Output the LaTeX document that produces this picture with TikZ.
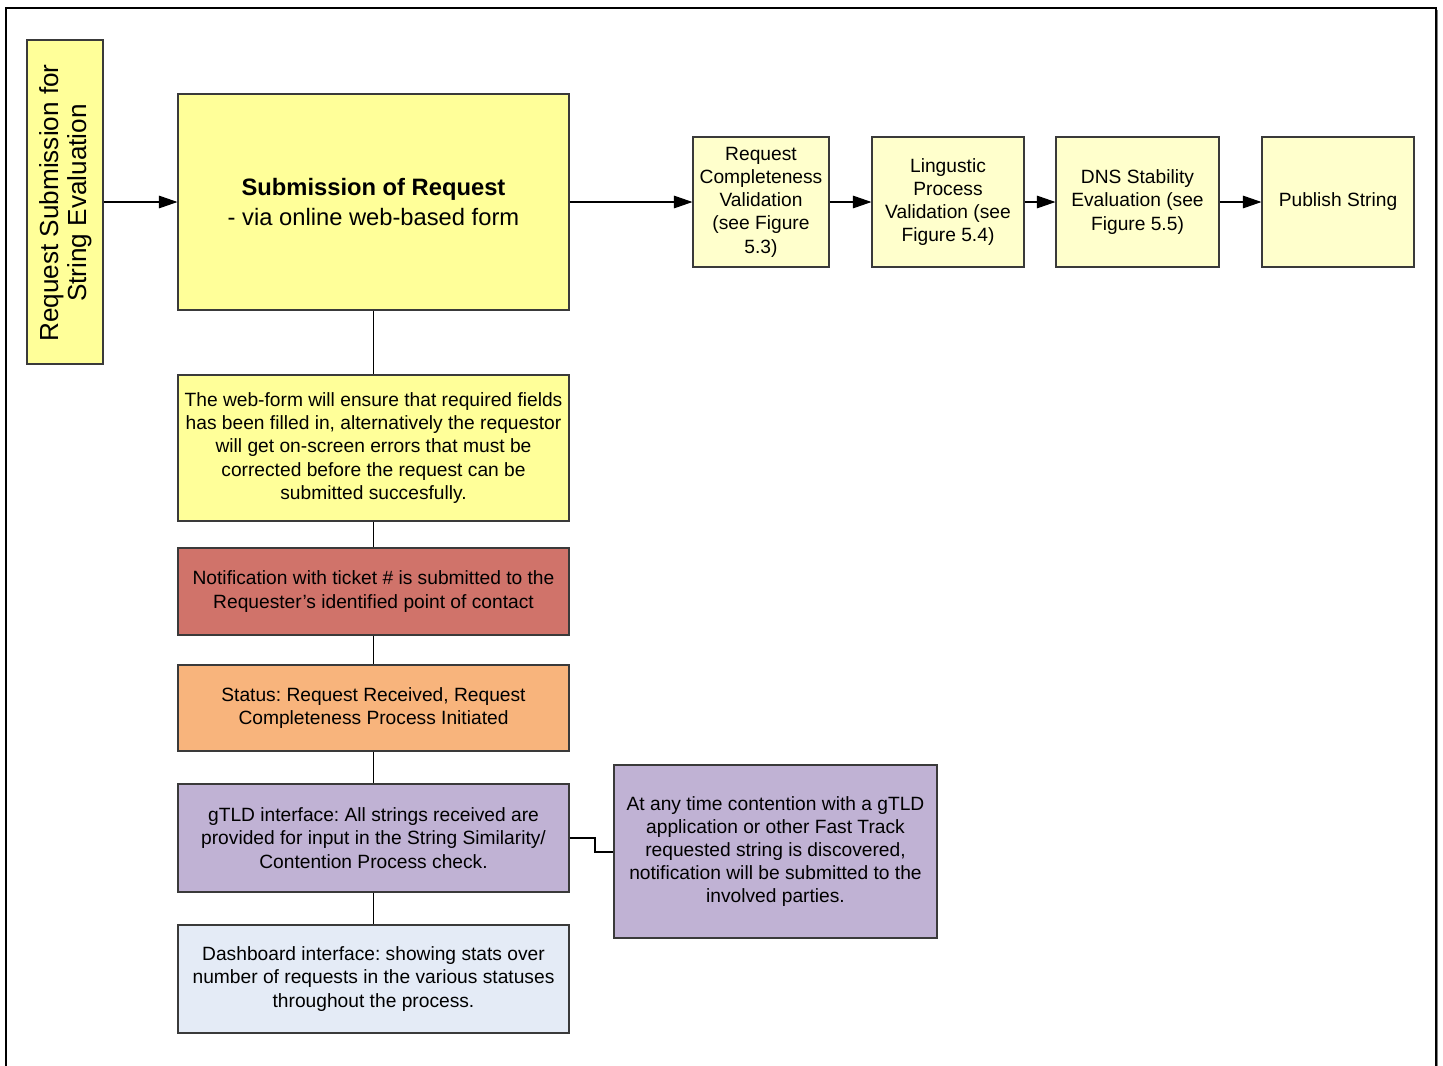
\documentclass[tikz,border=0pt]{standalone}
\usepackage{fontspec}
\setmainfont{Liberation Sans}
\usetikzlibrary{arrows.meta,shadows}
\frenchspacing
\definecolor{yelA}{HTML}{FFFF99}
\definecolor{yelB}{HTML}{FFFFCC}
\definecolor{redA}{HTML}{D0736A}
\definecolor{oraA}{HTML}{F8B47C}
\definecolor{purA}{HTML}{C0B2D4}
\definecolor{bluA}{HTML}{E4EBF6}
\definecolor{edgeA}{HTML}{3A3A3A}
\tikzset{
  box/.style={draw=edgeA, line width=0.8pt, inner sep=2pt, align=center,
    font=\fontsize{14.4pt}{17.4pt}\selectfont,
    drop shadow={shadow xshift=1pt, shadow yshift=-1pt, fill=gray!70, opacity=1}},
  conn/.style={draw=black, line width=0.8pt},
  arr/.style={conn, -{Triangle[length=14pt,width=9.5pt]}},
}
\begin{document}
\begin{tikzpicture}[x=0.75pt,y=-0.75pt]
\useasboundingbox (0,0) rectangle (1443,1065);
\draw[line width=1pt, black] (6,1070) -- (6,8) -- (1436,8) -- (1436,1070);
\draw[line width=1pt, gray] (1437.5,9.5) -- (1437.5,1070);

% vertical box
\node (v) [box, fill=yelA, minimum width=76*0.75pt, minimum height=324*0.75pt] at (65,202) {};
\node (vt) [rotate=90, align=center, font=\fontsize{19.6pt}{21pt}\selectfont] at (66,203) {Request Submission for\\String Evaluation};

% main box
\node (sub) [box, fill=yelA, minimum width=391*0.75pt, minimum height=216*0.75pt, font=\fontsize{17.8pt}{21.8pt}\selectfont] at (373.5,202)
  {\textbf{Submission of Request}\\- via online web-based form};

% chain
\node (rc) [box, fill=yelB, minimum width=136*0.75pt, minimum height=130*0.75pt] at (761,202)
  {Request\\Completeness\\Validation\\(see Figure\\5.3)};
\node (lp) [box, fill=yelB, minimum width=152*0.75pt, minimum height=130*0.75pt] at (948,202)
  {Lingustic\\Process\\Validation (see\\Figure 5.4)};
\node (dns) [box, fill=yelB, minimum width=163*0.75pt, minimum height=130*0.75pt] at (1137.5,202)
  {DNS Stability\\Evaluation (see\\Figure 5.5)};
\node (pub) [box, fill=yelB, minimum width=152*0.75pt, minimum height=130*0.75pt] at (1338,202)
  {Publish String};

% column
\node (web) [box, fill=yelA, minimum width=391*0.75pt, minimum height=146*0.75pt] at (373.5,448)
  {The web-form will ensure that required fields\\has been filled in, alternatively the requestor\\will get on-screen errors that must be\\corrected before the request can be\\submitted succesfully.};
\node (notif) [box, fill=redA, minimum width=391*0.75pt, minimum height=87*0.75pt] at (373.5,591.5)
  {Notification with ticket \# is submitted to the\\Requester's identified point of contact};
\node (stat) [box, fill=oraA, minimum width=391*0.75pt, minimum height=86*0.75pt] at (373.5,708)
  {Status: Request Received, Request\\Completeness Process Initiated};
\node (gtld) [box, fill=purA, minimum width=391*0.75pt, minimum height=108*0.75pt] at (373.5,838)
  {gTLD interface: All strings received are\\provided for input in the String Similarity/\\Contention Process check.};
\node (dash) [box, fill=bluA, minimum width=391*0.75pt, minimum height=108*0.75pt] at (373.5,979)
  {Dashboard interface: showing stats over\\number of requests in the various statuses\\throughout the process.};
\node (cont) [box, fill=purA, minimum width=323*0.75pt, minimum height=173*0.75pt] at (775.5,851.5)
  {At any time contention with a gTLD\\application or other Fast Track\\requested string is discovered,\\notification will be submitted to the\\involved parties.};

% connectors
\draw[arr] (v.east |- sub.west) -- (sub.west);
\draw[arr] (sub.east) -- (rc.west);
\draw[arr] (rc.east) -- (lp.west);
\draw[arr] (lp.east) -- (dns.west);
\draw[arr] (dns.east) -- (pub.west);
\draw[conn] (sub.south) -- (web.north);
\draw[conn] (web.south) -- (notif.north);
\draw[conn] (notif.south) -- (stat.north);
\draw[conn] (stat.south) -- (gtld.north);
\draw[conn] (gtld.south) -- (dash.north);
\coordinate (k1) at (595,838);
\coordinate (k2) at (595,852);
\draw[conn] (gtld.east) -- (k1) -- (k2) -- (cont.west |- k2);
\end{tikzpicture}
\end{document}
